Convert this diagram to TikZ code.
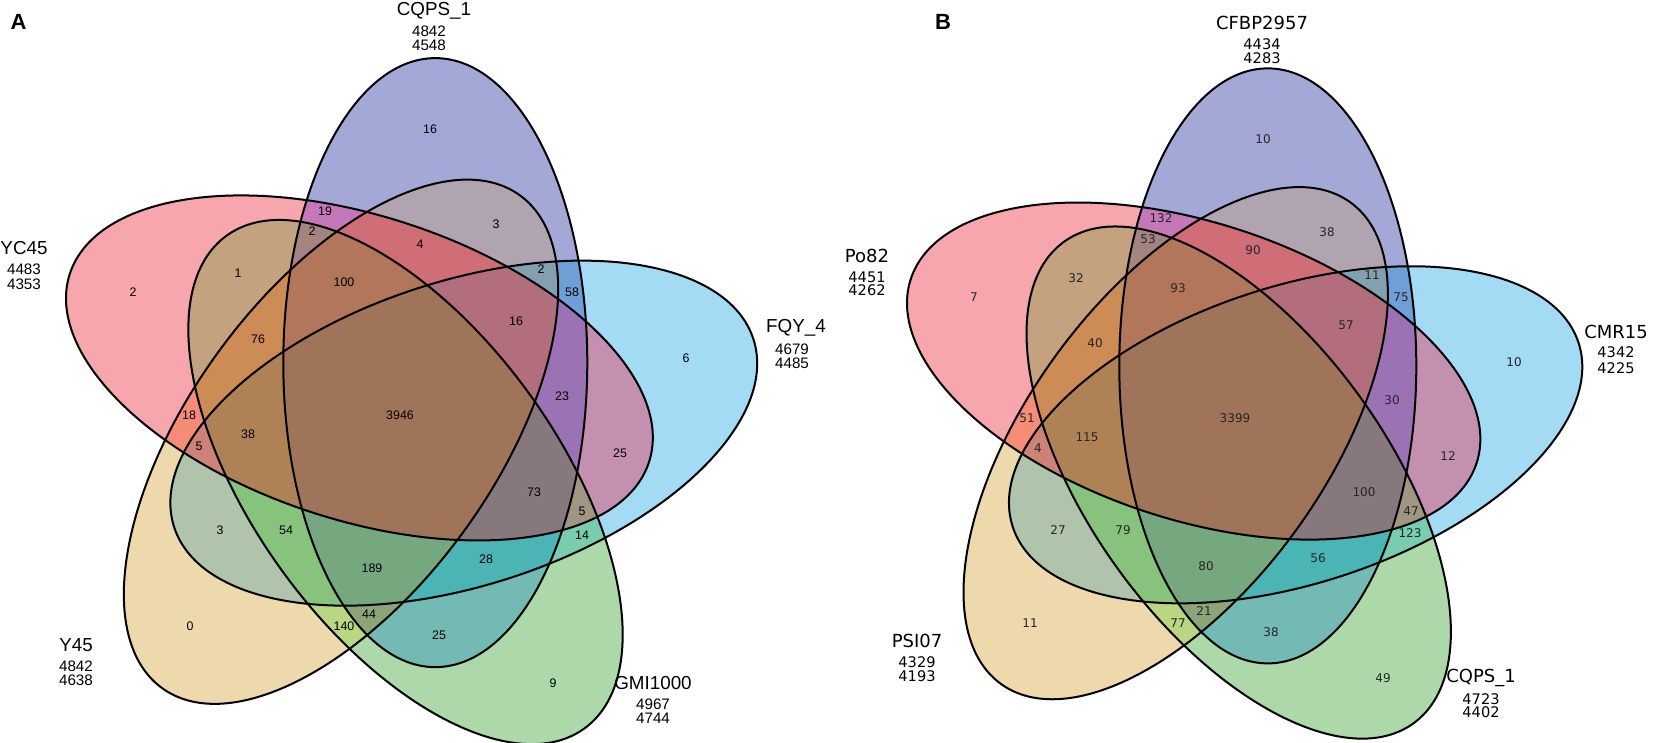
\documentclass[tikz,border=0pt]{standalone}
\usepackage{fontspec}
\setmainfont{Liberation Sans}
\newfontfamily\dejavu{DejaVu Sans}
% region colours (0 blue, 1 pink, 2 tan, 3 green, 4 cyan)
\definecolor{r0}{RGB}{164,168,214}
\definecolor{r1}{RGB}{246,166,172}
\definecolor{r2}{RGB}{237,217,172}
\definecolor{r3}{RGB}{173,217,170}
\definecolor{r4}{RGB}{164,219,244}
\definecolor{r01}{RGB}{196,120,186}
\definecolor{r02}{RGB}{176,164,176}
\definecolor{r03}{RGB}{115,185,180}
\definecolor{r04}{RGB}{110,160,215}
\definecolor{r12}{RGB}{245,140,120}
\definecolor{r13}{RGB}{196,162,128}
\definecolor{r14}{RGB}{195,145,175}
\definecolor{r23}{RGB}{185,215,130}
\definecolor{r24}{RGB}{176,196,172}
\definecolor{r34}{RGB}{120,205,175}
\definecolor{r012}{RGB}{208,110,120}
\definecolor{r013}{RGB}{164,132,128}
\definecolor{r014}{RGB}{155,115,180}
\definecolor{r023}{RGB}{140,165,120}
\definecolor{r024}{RGB}{130,160,175}
\definecolor{r034}{RGB}{75,180,180}
\definecolor{r123}{RGB}{205,140,85}
\definecolor{r124}{RGB}{205,130,120}
\definecolor{r134}{RGB}{160,150,130}
\definecolor{r234}{RGB}{135,195,125}
\definecolor{r0123}{RGB}{178,118,90}
\definecolor{r0124}{RGB}{178,110,125}
\definecolor{r0134}{RGB}{135,120,125}
\definecolor{r0234}{RGB}{118,168,128}
\definecolor{r1234}{RGB}{175,130,85}
\definecolor{r01234}{RGB}{160,116,88}
\tikzset{
  setline/.style={draw=black, line width=1pt, fill=none},
  numA/.style={font=\fontsize{6.2}{7}\selectfont, inner sep=0pt},
  catA/.style={font=\fontsize{9.4}{11}\selectfont, inner sep=0pt},
  cntA/.style={font=\fontsize{7.6}{9}\selectfont, inner sep=0pt},
  numB/.style={font=\dejavu\fontsize{6}{7}\selectfont, inner sep=0pt, text=black!85},
  catB/.style={font=\dejavu\fontsize{9}{11}\selectfont, inner sep=0pt},
  cntB/.style={font=\dejavu\fontsize{7.3}{9}\selectfont, inner sep=0pt},
  panel/.style={font=\bfseries\fontsize{11}{13}\selectfont, inner sep=0pt}
}
\newcommand{\clipE}[1]{\clip[rotate=72*#1] (-58:64.7) ellipse [x radius=152, y radius=304.5];}
\newcommand{\fillE}[2]{\fill[#2, rotate=72*#1] (-58:64.7) ellipse [x radius=152, y radius=304.5];}
\newcommand{\rgA}[1]{\fillE{#1}{r#1}}
\newcommand{\rgB}[2]{\begin{scope}\clipE{#1}\fillE{#2}{r#1#2}\end{scope}}
\newcommand{\rgC}[3]{\begin{scope}\clipE{#1}\clipE{#2}\fillE{#3}{r#1#2#3}\end{scope}}
\newcommand{\rgD}[4]{\begin{scope}\clipE{#1}\clipE{#2}\clipE{#3}\fillE{#4}{r#1#2#3#4}\end{scope}}
\newcommand{\rgE}{\begin{scope}\clipE{0}\clipE{1}\clipE{2}\clipE{3}\fillE{4}{r01234}\end{scope}}
\newcommand{\fivesets}{%
  \rgA{0}\rgA{1}\rgA{2}\rgA{3}\rgA{4}%
  \rgB{0}{1}\rgB{0}{2}\rgB{0}{3}\rgB{0}{4}\rgB{1}{2}%
  \rgB{1}{3}\rgB{1}{4}\rgB{2}{3}\rgB{2}{4}\rgB{3}{4}%
  \rgC{0}{1}{2}\rgC{0}{1}{3}\rgC{0}{1}{4}\rgC{0}{2}{3}\rgC{0}{2}{4}%
  \rgC{0}{3}{4}\rgC{1}{2}{3}\rgC{1}{2}{4}\rgC{1}{3}{4}\rgC{2}{3}{4}%
  \rgD{0}{1}{2}{3}\rgD{0}{1}{2}{4}\rgD{0}{1}{3}{4}\rgD{0}{2}{3}{4}\rgD{1}{2}{3}{4}%
  \rgE
  \foreach \k in {0,...,4}{
    \path[setline, rotate=72*\k] (-58:64.7) ellipse [x radius=152, y radius=304.5];
  }
}
\begin{document}
\begin{tikzpicture}[x=0.5pt,y=-0.5pt]
\useasboundingbox (0,0) rectangle (1655,743);
% ---------- panel A ----------
\begin{scope}[shift={(401,417.5)}]
  \fivesets
\end{scope}
\node[panel] (pA) at (18.5,22) {A};
\node[catA] (cA1) at (434,11) {CQPS\_1};
\node[cntA] (kA1a) at (429,31) {4842};
\node[cntA] (kA1b) at (429,45) {4548};
\node[catA] (cA2) at (796,328) {FQY\_4};
\node[cntA] (kA2a) at (792,349) {4679};
\node[cntA] (kA2b) at (792,363) {4485};
\node[catA] (cA3) at (653,683) {GMI1000};
\node[cntA] (kA3a) at (653,704) {4967};
\node[cntA] (kA3b) at (653,718) {4744};
\node[catA] (cA4) at (76,645) {Y45};
\node[cntA] (kA4a) at (76,666) {4842};
\node[cntA] (kA4b) at (76,680) {4638};
\node[catA] (cA5) at (24,248) {YC45};
\node[cntA] (kA5a) at (24,269) {4483};
\node[cntA] (kA5b) at (24,284) {4353};
\foreach \x/\y/\t [count=\i] in {
  430/129/16, 325/211/19, 312/231/2, 496/224/3, 420/244/4, 238/273/1,
  344/282/100, 541/269/2, 572/292/58, 133/292/2, 516/321/16, 258/339/76,
  686/358/6, 562/396/23, 400/415/3946, 189/415/18, 248/434/38, 199/446/5,
  620/453/25, 534/492/73, 582/511/5, 220/530/3, 286/530/54, 582/535/14,
  486/559/28, 372/568/189, 369/614/44, 190/626/0, 344/626/140, 439/635/25,
  553/683/9}
  \node[numA] (nA\i) at (\x,\y) {\t};
% ---------- panel B ----------
\begin{scope}[shift={(1234.3,419.5)}, scale=0.977]
  \fivesets
\end{scope}
\node[panel] (pB) at (943,22) {B};
\node[catB] (cB1) at (1262,23) {CFBP2957};
\node[cntB] (kB1a) at (1262,44) {4434};
\node[cntB] (kB1b) at (1262,58) {4283};
\node[catB] (cB2) at (1616,332) {CMR15};
\node[cntB] (kB2a) at (1616,352) {4342};
\node[cntB] (kB2b) at (1616,368) {4225};
\node[catB] (cB3) at (1481,678) {CQPS\_1};
\node[cntB] (kB3a) at (1481,699) {4723};
\node[cntB] (kB3b) at (1481,712) {4402};
\node[catB] (cB4) at (917,641) {PSI07};
\node[cntB] (kB4a) at (917,662) {4329};
\node[cntB] (kB4b) at (917,676) {4193};
\node[catB] (cB5) at (867,256) {Po82};
\node[cntB] (kB5a) at (867,277) {4451};
\node[cntB] (kB5b) at (867,290) {4262};
\foreach \x/\y/\t [count=\i] in {
  1263/139/10, 1161/218/132, 1148/239/53, 1327/232/38, 1253/250/90,
  1076/278/32, 974/297/7, 1178/288/93, 1372/275/11, 1401/297/75,
  1346/325/57, 1095/343/40, 1514/362/10, 1392/400/30, 1235/418/3399,
  1027/418/51, 1087/437/115, 1038/448/4, 1448/456/12, 1364/492/100,
  1411/511/47, 1058/530/27, 1123/530/79, 1410/533/123, 1318/558/56,
  1206/566/80, 1204/611/21, 1030/623/11, 1178/623/77, 1271/632/38,
  1383/678/49}
  \node[numB] (nB\i) at (\x,\y) {\t};
\end{tikzpicture}
\end{document}
